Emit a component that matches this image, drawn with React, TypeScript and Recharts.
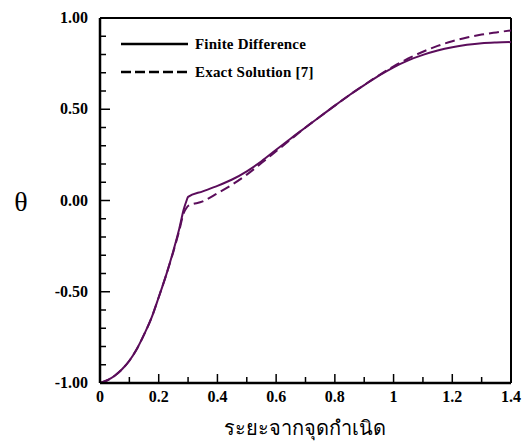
import { LineChart, Line, XAxis, YAxis, ReferenceLine, Legend } from "recharts"

const xs = [0, 0.025, 0.05, 0.075, 0.1, 0.125, 0.15, 0.175, 0.2, 0.225, 0.25, 0.27, 0.285, 0.295, 0.3, 0.35, 0.4, 0.45, 0.5, 0.55, 0.6, 0.65, 0.7, 0.75, 0.8, 0.85, 0.9, 0.95, 1.0, 1.05, 1.1, 1.15, 1.2, 1.25, 1.3, 1.35, 1.4]
const finiteDiff = [-1.0, -0.985, -0.96, -0.925, -0.878, -0.815, -0.735, -0.645, -0.53, -0.41, -0.275, -0.155, -0.05, 0.0, 0.02, 0.05, 0.08, 0.115, 0.16, 0.215, 0.278, 0.34, 0.4, 0.46, 0.52, 0.578, 0.632, 0.684, 0.73, 0.768, 0.798, 0.822, 0.84, 0.853, 0.862, 0.866, 0.868]
const exact = [-1.0, -0.985, -0.96, -0.925, -0.878, -0.815, -0.735, -0.645, -0.53, -0.41, -0.28, -0.165, -0.07, -0.04, -0.03, -0.005, 0.04, 0.087, 0.142, 0.205, 0.27, 0.335, 0.4, 0.46, 0.52, 0.578, 0.633, 0.686, 0.735, 0.778, 0.815, 0.847, 0.873, 0.893, 0.909, 0.921, 0.932]

const xTicks = [0, 0.1, 0.2, 0.3, 0.4, 0.5, 0.6, 0.7, 0.8, 0.9, 1.0, 1.1, 1.2, 1.3, 1.4]
const yTicks = [-1, -0.9, -0.8, -0.7, -0.6, -0.5, -0.4, -0.3, -0.2, -0.1, 0, 0.1, 0.2, 0.3, 0.4, 0.5, 0.6, 0.7, 0.8, 0.9, 1]

const seriesNames = ["Finite Difference", "Exact Solution [7]"]
const xTitle = "ระยะจากจุดกำเนิด"
const yTitle = "θ"

const data = xs.map((x, i) => ({ x, fd: finiteDiff[i], exact: exact[i] }))

const purple = "#5b0d5b"
const serif = "'Liberation Serif', 'Times New Roman', serif"

function XTick({ x, y, payload }: any) {
  const v = payload.value
  const major = Math.abs(v * 5 - Math.round(v * 5)) < 1e-6
  return (
    <g>
      <line x1={x} x2={x} y1={y} y2={y - (major ? 9 : 6)} stroke="#000" strokeWidth={1.5} />
      {major && (
        <text x={x} y={y + 19} textAnchor="middle" fontFamily={serif} fontWeight="bold" fontSize={16} fill="#000">
          {Number(v.toFixed(1)).toString()}
        </text>
      )}
    </g>
  )
}

function YTick({ x, y, payload }: any) {
  const v = payload.value
  const major = Math.abs(v * 2 - Math.round(v * 2)) < 1e-6
  return (
    <g>
      <line x1={x} x2={x + (major ? 10 : 6)} y1={y} y2={y} stroke="#000" strokeWidth={1.5} />
      {major && (
        <text x={x - 12} y={y + 5} textAnchor="end" fontFamily={serif} fontWeight="bold" fontSize={16} fill="#000">
          {v.toFixed(2)}
        </text>
      )}
    </g>
  )
}

function LegendBox() {
  const row = { display: "flex", alignItems: "center", height: 20, marginBottom: 8 }
  const txt = { fontFamily: serif, fontWeight: "bold" as const, fontSize: 15, letterSpacing: 0.2, color: "#000", marginLeft: 5, whiteSpace: "nowrap" as const }
  return (
    <div>
      <div style={row}>
        <svg width={72} height={20}>
          <line x1={3} x2={70} y1={10} y2={10} stroke="#000" strokeWidth={2.5} />
        </svg>
        <span style={txt}>{seriesNames[0]}</span>
      </div>
      <div style={row}>
        <svg width={72} height={20}>
          <line x1={3} x2={70} y1={10} y2={10} stroke="#000" strokeWidth={2.5} strokeDasharray="10 4" />
        </svg>
        <span style={txt}>{seriesNames[1]}</span>
      </div>
    </div>
  )
}

export default function App() {
  return (
    <div style={{ position: "absolute", left: 0, top: 0, background: "#fff" }}>
      <LineChart width={528} height={443} data={data} margin={{ top: 18, right: 17, bottom: 0, left: 0 }}>
        <XAxis
          dataKey="x"
          type="number"
          domain={[0, 1.4]}
          ticks={xTicks}
          interval={0}
          height={60}
          tickSize={0}
          tickMargin={0}
          tickLine={false}
          tick={<XTick />}
          axisLine={{ stroke: "#000", strokeWidth: 2.5 }}
          label={{
            content: () => (
              <text x={305} y={435} textAnchor="middle" fontFamily="'Noto Sans', 'DejaVu Sans', sans-serif" fontSize={20} fill="#000">
                {xTitle}
              </text>
            ),
          }}
        />
        <YAxis
          type="number"
          domain={[-1, 1]}
          ticks={yTicks}
          interval={0}
          width={100}
          tickSize={0}
          tickMargin={0}
          tickLine={false}
          tick={<YTick />}
          axisLine={{ stroke: "#000", strokeWidth: 2.5 }}
          label={{
            content: () => (
              <text x={21} y={211} textAnchor="middle" fontFamily={serif} fontSize={28} fill="#000">
                {yTitle}
              </text>
            ),
          }}
        />
        <ReferenceLine y={1} stroke="#000" strokeWidth={2} />
        <ReferenceLine x={1.4} stroke="#000" strokeWidth={2} />
        <Line dataKey="fd" type="monotone" stroke={purple} strokeWidth={2} dot={false} isAnimationActive={false} />
        <Line dataKey="exact" type="monotone" stroke={purple} strokeWidth={2} strokeDasharray="10 5" dot={false} isAnimationActive={false} />
        <Legend
          layout="horizontal"
          verticalAlign="middle"
          align="center"
          content={<LegendBox />}
          wrapperStyle={{ left: 118, top: 34, width: 260 }}
        />
      </LineChart>
    </div>
  )
}
